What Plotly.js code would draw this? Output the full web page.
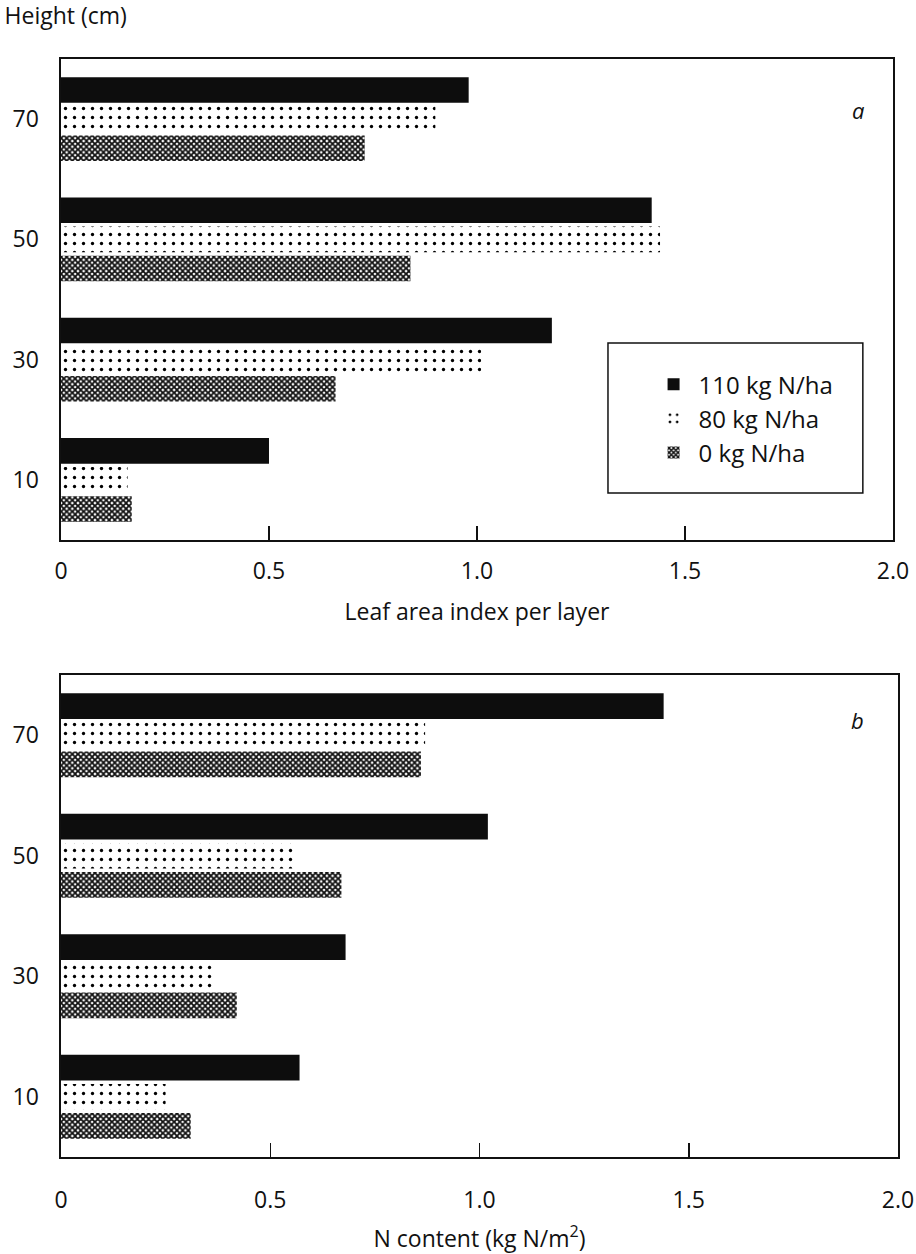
<!DOCTYPE html>
<html>
<head>
<meta charset="utf-8">
<script src="https://cdn.plot.ly/plotly-3.0.1.min.js"></script>
<style>
  html, body { margin: 0; padding: 0; background: #fff; }
  #chart { width: 916px; height: 1254px; }
</style>
</head>
<body>
<div id="chart"></div>
<script>
// ---- data ----
const heights = [10, 30, 50, 70];
const heightTicks = ['10', '30', '50', '70'];
const seriesNames = ['110 kg N/ha', '80 kg N/ha', '0 kg N/ha'];

// panel a: leaf area index per layer
const laiN110 = [0.50, 1.18, 1.42, 0.98];
const laiN80  = [0.16, 1.01, 1.44, 0.90];
const laiN0   = [0.17, 0.66, 0.84, 0.73];

// panel b: N content (kg N/m2)
const ncN110 = [0.57, 0.68, 1.02, 1.44];
const ncN80  = [0.25, 0.37, 0.56, 0.87];
const ncN0   = [0.31, 0.42, 0.67, 0.86];

const xTickVals = [0, 0.5, 1.0, 1.5, 2.0];
const xTickText = ['0', '0.5', '1.0', '1.5', '2.0'];

// ---- styles ----
const FONT = 'Open Sans, DejaVu Sans, sans-serif';
const INK = '#111';
const styles = {
  n110: { color: '#0d0d0d', line: { width: 0 } },
  n80:  { color: 'white', line: { width: 0 },
          pattern: { shape: '.', size: 9, solidity: 0.11, fgcolor: '#000', bgcolor: 'white', fillmode: 'replace' } },
  n0:   { color: 'white', line: { width: 0 },
          pattern: { shape: 'x', size: 4, solidity: 0.7, fgcolor: '#111', bgcolor: 'white', fillmode: 'replace' } }
};

function bar(x, name, marker, xa, ya, showlegend) {
  return { type: 'bar', orientation: 'h', y: heights, x: x, name: name,
           marker: marker, xaxis: xa, yaxis: ya, showlegend: showlegend,
           hoverinfo: 'x+name' };
}

// order: bottom-to-top within group -> 0, 80, 110
const traces = [
  bar(laiN0,  seriesNames[2], styles.n0,  'x',  'y',  true),
  bar(laiN80, seriesNames[1], styles.n80, 'x',  'y',  true),
  bar(laiN110,seriesNames[0], styles.n110,'x',  'y',  true),
  bar(ncN0,   seriesNames[2], styles.n0,  'x2', 'y2', false),
  bar(ncN80,  seriesNames[1], styles.n80, 'x2', 'y2', false),
  bar(ncN110, seriesNames[0], styles.n110,'x2', 'y2', false)
];

const xaxisCommon = {
  range: [0, 2.0], tickvals: xTickVals, ticktext: xTickText,
  ticks: 'inside', ticklen: 14, tickwidth: 1.5, tickcolor: INK,
  showline: true, linecolor: INK, linewidth: 1.6, mirror: true,
  showgrid: false, zeroline: false,
  tickfont: { family: FONT, size: 23, color: INK }
};
const yaxisCommon = {
  range: [0, 80], tickvals: heights, ticktext: heightTicks,
  ticks: '', showline: true, linecolor: INK, linewidth: 1.6, mirror: true,
  showgrid: false, zeroline: false, ticklabelstandoff: 16,
  tickfont: { family: FONT, size: 23, color: INK }
};

const layout = {
  width: 916, height: 1254,
  paper_bgcolor: 'white', plot_bgcolor: 'white',
  margin: { l: 61, r: 18, t: 59, b: 97 },
  font: { family: FONT, size: 23, color: INK },
  title: { text: 'Height (cm)', x: 0.005, xref: 'container', xanchor: 'left',
           y: 0.987, yref: 'container', yanchor: 'middle',
           font: { family: FONT, size: 23, color: INK } },
  barmode: 'group', bargap: 0.275, bargroupgap: 0.12,
  xaxis: Object.assign({}, xaxisCommon, {
    domain: [0, 0.994], anchor: 'y', ticklabelstandoff: 10,
    title: { text: 'Leaf area index per layer', standoff: 18,
             font: { family: FONT, size: 23, color: INK } }
  }),
  yaxis: Object.assign({}, yaxisCommon, { domain: [0.5619, 1], anchor: 'x' }),
  xaxis2: Object.assign({}, xaxisCommon, {
    domain: [0, 1], anchor: 'y2', ticklabelstandoff: 22,
    title: { text: 'N content (kg N/m<sup>2</sup>)', standoff: 16,
             font: { family: FONT, size: 23, color: INK } }
  }),
  yaxis2: Object.assign({}, yaxisCommon, { domain: [0, 0.439], anchor: 'x2' }),
  showlegend: true,
  legend: {
    x: 0.702, xanchor: 'left', y: 0.724, yanchor: 'top',
    traceorder: 'reversed', tracegroupgap: 0, bgcolor: 'rgba(0,0,0,0)', borderwidth: 0,
    font: { family: FONT, size: 24, color: INK }, itemwidth: 40
  },
  shapes: [
    { type: 'rect', xref: 'paper', yref: 'paper',
      x0: 0.6535, x1: 0.958, y0: 0.6047, y1: 0.7413,
      line: { color: INK, width: 1.5 }, fillcolor: 'rgba(0,0,0,0)' }
  ],
  annotations: [
    { text: '<i>a</i>', xref: 'x domain', yref: 'y domain', x: 0.958, y: 0.894,
      xanchor: 'center', yanchor: 'middle',
      showarrow: false, font: { family: FONT, size: 22, color: INK } },
    { text: '<i>b</i>', xref: 'x2 domain', yref: 'y2 domain', x: 0.952, y: 0.907,
      xanchor: 'center', yanchor: 'middle',
      showarrow: false, font: { family: FONT, size: 22, color: INK } }
  ]
};

Plotly.newPlot('chart', traces, layout, { displayModeBar: false, staticPlot: true });
</script>
</body>
</html>
